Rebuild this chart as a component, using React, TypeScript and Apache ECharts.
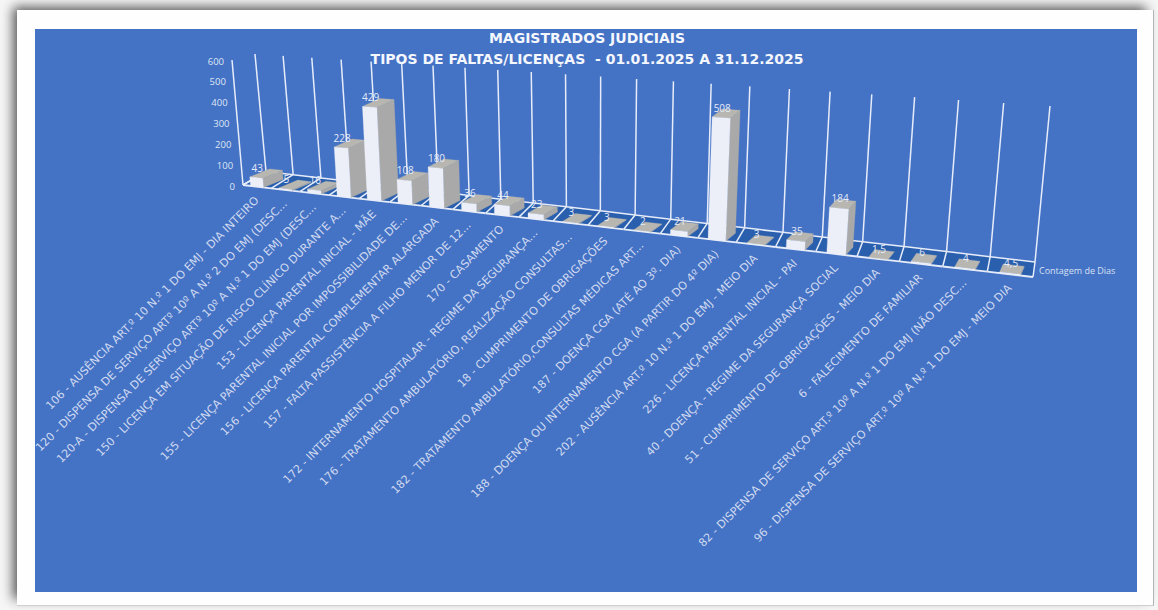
import React, { useEffect, useRef } from "react";
import * as echarts from "echarts";

const categories = [
  "106 - AUSÊNCIA ART.º 10 N.º 1 DO EMJ - DIA INTEIRO",
  "120 - DISPENSA DE SERVIÇO ARTº 10º A N.º 2 DO EMJ (DESC...",
  "120-A - DISPENSA DE SERVIÇO ARTº 10º A N.º 1 DO EMJ (DESC...",
  "150 - LICENÇA EM SITUAÇÃO DE RISCO CLÍNICO DURANTE A...",
  "153 - LICENÇA PARENTAL INICIAL - MÃE",
  "155 - LICENÇA PARENTAL INICIAL POR IMPOSSIBILIDADE DE...",
  "156 - LICENÇA PARENTAL COMPLEMENTAR ALARGADA",
  "157 - FALTA PASSISTÊNCIA A FILHO MENOR DE 12...",
  "170 - CASAMENTO",
  "172 - INTERNAMENTO HOSPITALAR - REGIME DA SEGURANÇA...",
  "176 - TRATAMENTO AMBULATÓRIO, REALIZAÇÃO CONSULTAS...",
  "18 - CUMPRIMENTO DE OBRIGAÇÕES",
  "182 - TRATAMENTO AMBULATÓRIO,CONSULTAS MÉDICAS ART...",
  "187 - DOENÇA CGA (ATÉ AO 3º. DIA)",
  "188 - DOENÇA OU INTERNAMENTO CGA (A PARTIR DO 4º DIA)",
  "202 - AUSÊNCIA ART.º 10 N.º 1 DO EMJ - MEIO DIA",
  "226 - LICENÇA PARENTAL INICIAL - PAI",
  "40 - DOENÇA - REGIME DA SEGURANÇA SOCIAL",
  "51 - CUMPRIMENTO DE OBRIGAÇÕES - MEIO DIA",
  "6 - FALECIMENTO DE FAMILIAR",
  "82 - DISPENSA DE SERVIÇO ART.º 10º A N.º 1 DO EMJ (NÃO DESC...",
  "96 - DISPENSA DE SERVIÇO ART.º 10º A N.º 1 DO EMJ - MEIO DIA",
];
const dias = [43, 5, 16, 228, 429, 108, 180, 36, 44, 23, 3, 3, 2, 21, 508, 3, 35, 184, 1.5, 6, 4, 4.5];
const yTicks = [0, 100, 200, 300, 400, 500, 600];
const titleLines = ["MAGISTRADOS JUDICIAIS", "TIPOS DE FALTAS/LICENÇAS  - 01.01.2025 A 31.12.2025"];
const seriesName = "Contagem de Dias";

// flat grid that the axes scale into; the picture's perspective is applied to its pixels
const GRID = { left: 100, top: 100, width: 880, height: 300 };
const lerp = (a: number, b: number, f: number) => a + (b - a) * f;
const pers = (t: number, k: number) => t / (t + k * (1 - t));
const tOf = (px: number) => (px - GRID.left) / GRID.width;
const hOf = (py: number) => (GRID.top + GRID.height - py) / GRID.height;

const frontAt = (t: number, h: number) => {
  const f = pers(t, 1.29);
  return [
    lerp(243, 1033, f) + h * lerp(-11, 16, f),
    lerp(185, 277, f) - h * lerp(125, 158, f),
  ];
};
const backFloor = (t: number) => {
  const f = pers(t, 1.3);
  return [lerp(266, 1035, f), lerp(171.5, 262, f)];
};
const backTop = (t: number) => {
  const f = pers(t, 1.3);
  return [lerp(255, 1050, f), lerp(54, 106, f)];
};

const WALL = "#e6ecf9";
const line = (a: number[], b: number[], w = 1.5, stroke = WALL) => ({
  type: "line",
  silent: true,
  shape: { x1: a[0], y1: a[1], x2: b[0], y2: b[1] },
  style: { stroke, lineWidth: w },
});
const poly = (points: number[][], fill: string) => ({
  type: "polygon",
  silent: true,
  shape: { points },
  style: { fill, stroke: fill, lineWidth: 0.3 },
});

const renderFloor = (_p: any, api: any) => {
  const i = api.value(0);
  const cx = api.coord([i, 0])[0];
  const band = api.size([1, 0])[0];
  const t0 = tOf(cx - band / 2);
  const t1 = tOf(cx + band / 2);
  const children: any[] = [
    poly([frontAt(t0, 0), frontAt(t1, 0), backFloor(t1), backFloor(t0)], "#2a5fae"),
    line(backFloor(t0), backTop(t0)),
    line(frontAt(t0, 0), backFloor(t0)),
    line(backFloor(t0), backFloor(t1)),
    line(frontAt(t0, 0), frontAt(t1, 0), 1.8),
  ];
  if (i === 0) {
    children.push(line(frontAt(0, 0), frontAt(0, 1)));
    children.push(line(frontAt(0, 0), backFloor(0)));
  }
  if (i === categories.length - 1) {
    children.push(line(frontAt(1, 0), backFloor(1)));
    children.push(line(backFloor(1), backTop(1)));
  }
  return { type: "group", children };
};

const renderBar = (_p: any, api: any) => {
  const i = api.value(0);
  const v = api.value(1);
  const c = api.coord([i, v]);
  const band = api.size([1, 0])[0];
  const h = hOf(c[1]);
  const tl = tOf(c[0] - band * 0.23);
  const tr = tOf(c[0] + band * 0.23);
  const f = pers(tOf(c[0]), 1.29);
  const dx = lerp(20, 3, f);
  const dy = -8;
  const add = (p: number[]) => [p[0] + dx, p[1] + dy];
  const bl = frontAt(tl, 0);
  const br = frontAt(tr, 0);
  const ul = frontAt(tl, h);
  const ur = frontAt(tr, h);
  const mid = frontAt(tOf(c[0]), h);
  const base = frontAt(tOf(c[0]), 0);
  return {
    type: "group",
    children: [
      poly([br, ur, add(ur), add(br)], "#a9a9a9"),
      poly([ul, ur, add(ur), add(ul)], "#b8b6b0"),
      poly([bl, br, ur, ul], "#eceff8"),
      {
        type: "text",
        silent: true,
        x: mid[0] + 1,
        y: mid[1] - 10,
        style: {
          text: String(v).replace(".", ","),
          textAlign: "center",
          textVerticalAlign: "middle",
          fill: "#e6ecf8",
          font: '10px "Open Sans"',
        },
      },
      {
        type: "text",
        silent: true,
        x: base[0],
        y: base[1] + 12,
        rotation: Math.PI / 4,
        style: {
          text: categories[i],
          textAlign: "right",
          textVerticalAlign: "middle",
          fill: "#cfd9f0",
          font: '11.2px "DejaVu Sans"',
        },
      },
    ],
  };
};

const renderTick = (_p: any, api: any) => {
  const v = api.value(1);
  const p = frontAt(0, hOf(api.coord([0, v])[1]));
  return {
    type: "text",
    silent: true,
    x: p[0] - 8,
    y: p[1] + 1,
    style: {
      text: String(v),
      textAlign: "right",
      textVerticalAlign: "middle",
      fill: "#dfe6f6",
      font: '9.5px "Open Sans"',
    },
  };
};

export default function App() {
  const ref = useRef<HTMLDivElement>(null);
  useEffect(() => {
    const chart = echarts.init(ref.current!, null, { renderer: "svg" });
    chart.setOption({
      animation: false,
      backgroundColor: "transparent",
      title: {
        text: titleLines.join("\n"),
        left: 582,
        top: 22,
        textAlign: "center",
        textStyle: {
          color: "#f4f7fd",
          fontFamily: "DejaVu Sans",
          fontWeight: "bold",
          fontSize: 14,
          lineHeight: 21,
        },
      },
      legend: {
        left: 1029,
        top: 261,
        itemWidth: 0,
        itemHeight: 0,
        itemGap: 0,
        data: [{ name: seriesName, icon: "none" }],
        selectedMode: false,
        textStyle: { color: "#d8e1f4", fontFamily: "Open Sans", fontSize: 9 },
      },
      graphic: [
        {
          type: "rect",
          z: -1,
          silent: true,
          shape: { x: 35, y: 29, width: 1102, height: 563 },
          style: { fill: "#4472c4" },
        },
      ],
      grid: GRID,
      xAxis: { type: "category", data: categories, show: false },
      yAxis: { type: "value", min: 0, max: 600, interval: 100, show: false },
      series: [
        {
          type: "custom",
          name: "floor",
          silent: true,
          clip: false,
          z: 2,
          data: categories.map((_, i) => [i, 0]),
          renderItem: renderFloor,
        },
        {
          type: "custom",
          name: "ticks",
          silent: true,
          clip: false,
          z: 3,
          data: yTicks.map((v) => [0, v]),
          renderItem: renderTick,
        },
        {
          type: "custom",
          name: seriesName,
          silent: true,
          clip: false,
          z: 4,
          data: dias.map((v, i) => [i, v]),
          renderItem: renderBar,
        },
      ],
    });
    return () => chart.dispose();
  }, []);
  return (
    <div style={{ position: "fixed", left: 0, top: 0, width: 1158, height: 610, background: "#f6f6f6", overflow: "hidden" }}>
      <div
        style={{
          position: "absolute",
          left: 17,
          top: 10,
          width: 1136,
          height: 595,
          background: "#fefefe",
          boxShadow: "-6px -5px 11px -2px rgba(0,0,0,0.65)",
          borderRight: "1px solid #b5b5b5",
          borderBottom: "1px solid #cfcfcf",
        }}
      />
      <div ref={ref} style={{ position: "absolute", left: 0, top: 0, width: 1158, height: 610 }} />
    </div>
  );
}
